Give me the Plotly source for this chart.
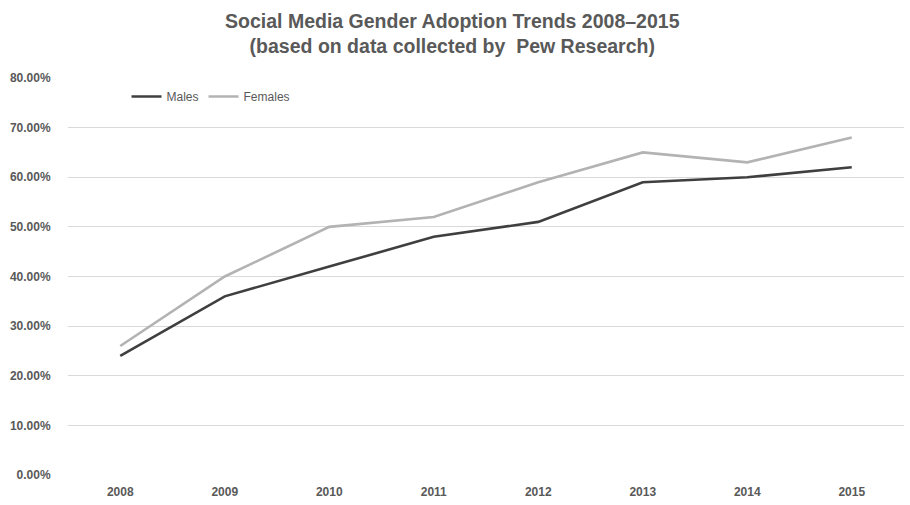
import plotly.graph_objects as go

years = [2008, 2009, 2010, 2011, 2012, 2013, 2014, 2015]
males = [0.24, 0.36, 0.42, 0.48, 0.51, 0.59, 0.60, 0.62]
females = [0.26, 0.40, 0.50, 0.52, 0.59, 0.65, 0.63, 0.68]
y_ticks = [0.0, 0.1, 0.2, 0.3, 0.4, 0.5, 0.6, 0.7, 0.8]

narrow = "Liberation Sans Narrow, Arial Narrow, Liberation Sans, Arial, sans-serif"

fig = go.Figure()
fig.add_trace(go.Scatter(x=years, y=males, name="Males", mode="lines",
                         line=dict(color="#3f3f3f", width=2.6)))
fig.add_trace(go.Scatter(x=years, y=females, name="Females", mode="lines",
                         line=dict(color="#b3b3b3", width=2.6)))

fig.update_layout(
    width=910, height=505,
    margin=dict(l=68, r=6, t=78, b=28),
    paper_bgcolor="white", plot_bgcolor="white",
    title=dict(
        text="<b>Social Media Gender Adoption Trends 2008–2015<br>(based on data collected by  Pew Research)</b>",
        x=0.497, xanchor="center", xref="container",
        yref="container", y=1 - 28 / 505, yanchor="middle",
        font=dict(family=narrow, size=19.5, color="#595959"),
    ),
    legend=dict(orientation="h", x=0.07, y=0.99, xanchor="left", yanchor="top",
                font=dict(family=narrow, size=12, color="#595959"),
                bgcolor="rgba(0,0,0,0)", itemwidth=30, tracegroupgap=0),
    showlegend=True,
)
fig.update_xaxes(
    range=[2007.5, 2015.5], tickvals=years, ticktext=[str(y) for y in years],
    showgrid=False, zeroline=False, showline=False,
    ticks="outside", ticklen=6, tickcolor="rgba(0,0,0,0)",
    tickfont=dict(family=narrow, size=12, color="#595959", weight="bold"),
)
fig.update_yaxes(
    range=[0, 0.8], tickvals=y_ticks, tickformat=".2%",
    showgrid=True, gridcolor="#d9d9d9", gridwidth=1,
    zeroline=False, showline=False,
    ticks="outside", ticklen=14, tickcolor="rgba(0,0,0,0)",
    tickfont=dict(family=narrow, size=12, color="#595959", weight="bold"),
)

fig.write_html("out.html")
